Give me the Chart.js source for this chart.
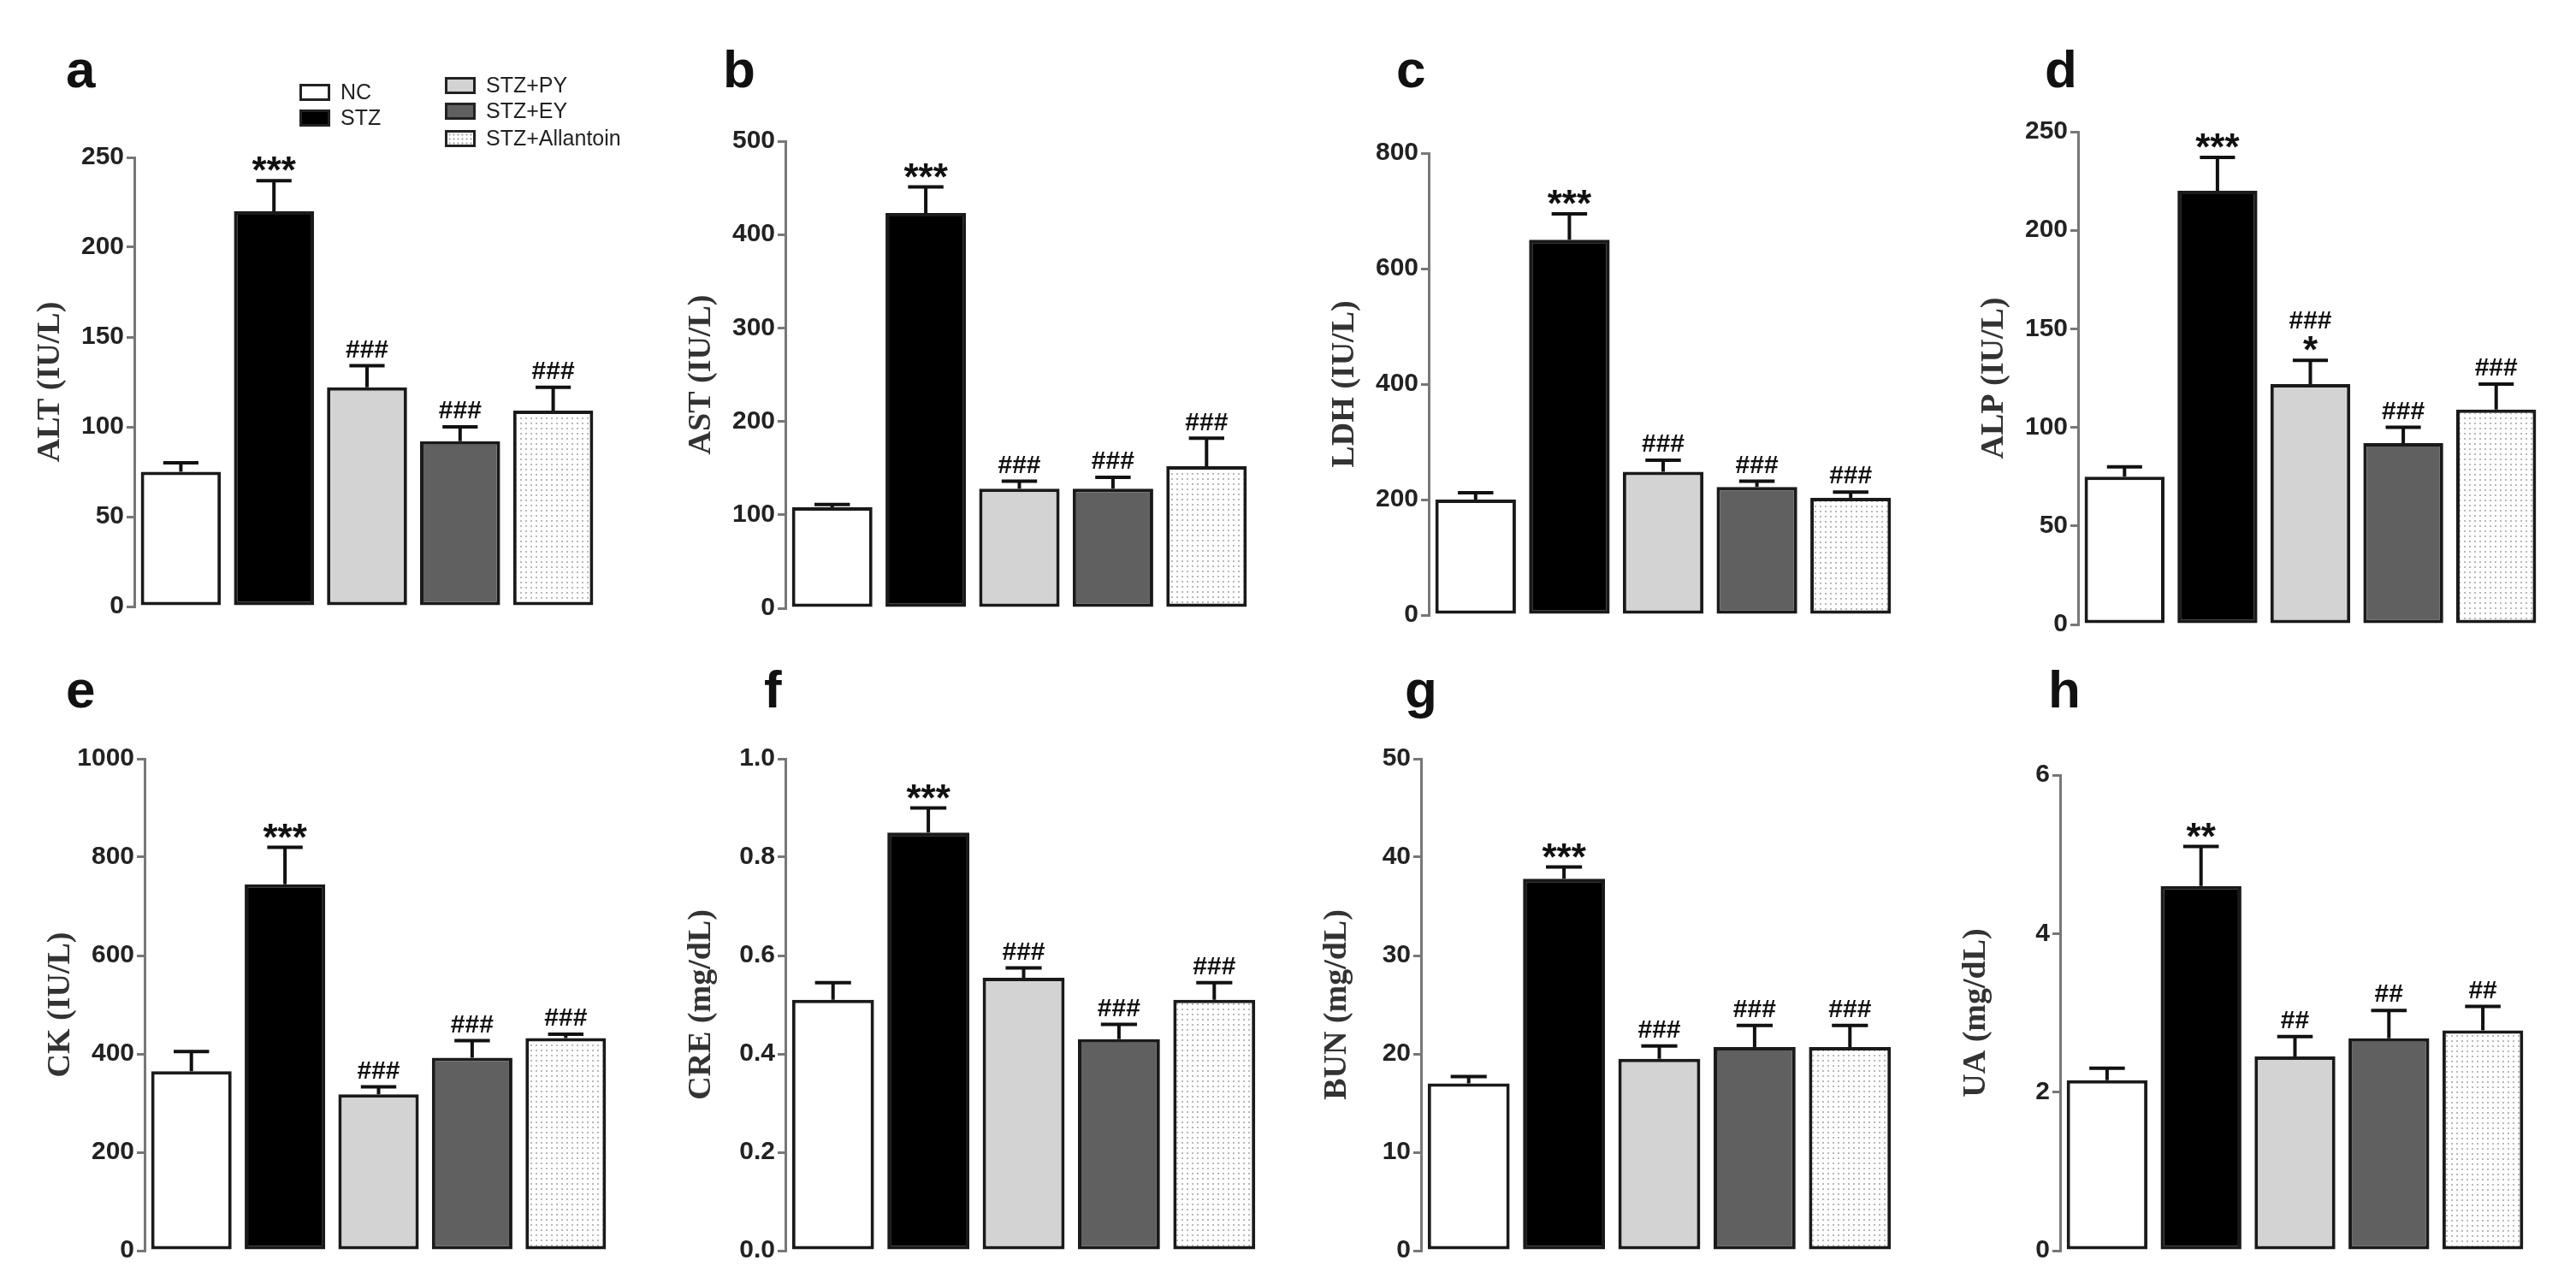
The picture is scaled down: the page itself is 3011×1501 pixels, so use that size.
<!DOCTYPE html>
<html><head><meta charset="utf-8">
<script src="https://cdn.jsdelivr.net/npm/chart.js@4"></script>
<style>
body{margin:0;background:#fff;width:3011px;height:1501px;position:relative;overflow:hidden;font-family:"Liberation Sans",Arial,sans-serif}
canvas{position:absolute}
.lt{position:absolute;font:bold 62px "Liberation Sans",Arial,sans-serif;color:#111}
.lg{position:absolute;font:25px "Liberation Sans Narrow","Liberation Sans",Arial,sans-serif;color:#222;white-space:nowrap}
.bx{position:absolute;width:36px;height:20px;border:3px solid #222;box-sizing:border-box}
</style></head><body>
<script>
const groups = ["NC","STZ","STZ+PY","STZ+EY","STZ+Allantoin"];
const panelLetters = ["a","b","c","d","e","f","g","h"];
const titles = ["ALT (IU/L)","AST (IU/L)","LDH (IU/L)","ALP (IU/L)","CK (IU/L)","CRE (mg/dL)","BUN (mg/dL)","UA (mg/dL)"];
const yMax = [250,500,800,250,1000,1.0,50,6];
const yStep = [50,100,200,50,200,0.2,10,2];
const ALT = [75,220,122,92,109], ALTerr = [5,17,12,8,13];
const AST = [108,423,128,128,152], ASTerr = [3,28,8,12,30];
const LDH = [200,650,248,222,203], LDHerr = [12,45,20,10,10];
const ALP = [75,220,122,92,109], ALPerr = [5,17,12,8,13];
const CK = [365,745,318,392,432], CKerr = [40,75,15,35,8];
const CRE = [0.51,0.85,0.555,0.43,0.51], CREerr = [0.035,0.05,0.02,0.03,0.035];
const BUN = [17,37.8,19.5,20.7,20.7], BUNerr = [0.7,1.2,1.3,2.2,2.2];
const UA = [2.15,4.6,2.45,2.68,2.78], UAerr = [0.15,0.5,0.25,0.35,0.3];
const values = [ALT,AST,LDH,ALP,CK,CRE,BUN,UA];
const errors = [ALTerr,ASTerr,LDHerr,ALPerr,CKerr,CREerr,BUNerr,UAerr];
const sigs = [
 ["","***","###","###","###"],["","***","###","###","###"],["","***","###","###","###"],
 ["","***","###\n*","###","###"],["","***","###","###","###"],["","***","###","###","###"],
 ["","***","###","###","###"],["","**","##","##","##"]];
const layout = [
 [157,184,710,701,77,45],[918,165,712,1465,845,45],[1670,179,720,2218,1632,45],[2429,154,731,2972,2390,45],
 [169,887,1463,716,77,770],[918,887,1463,1475,893,770],[1661,887,1463,2218,1642,770],[2408,906,1463,2957,2394,770]];

const pc = document.createElement('canvas'); pc.width=6; pc.height=6;
const px = pc.getContext('2d'); px.fillStyle='#fff'; px.fillRect(0,0,6,6); px.fillStyle='#b8b8b8'; px.fillRect(0,0,2,2);

const errPlugin = {id:'err', afterDatasetsDraw(chart){
  const ctx=chart.ctx, y=chart.scales.y, meta=chart.getDatasetMeta(0), p=chart.options.plugins.err;
  ctx.save(); ctx.strokeStyle='#111'; ctx.lineWidth=4; ctx.fillStyle='#111'; ctx.textAlign='center';
  meta.data.forEach((b,i)=>{
    const top=y.getPixelForValue(p.v[i]), e=y.getPixelForValue(p.v[i]+p.e[i]), hw=b.width*0.22;
    ctx.beginPath(); ctx.moveTo(b.x,top); ctx.lineTo(b.x,e); ctx.moveTo(b.x-hw,e); ctx.lineTo(b.x+hw,e); ctx.stroke();
    const s=p.s[i]; if(!s) return;
    const lines=s.split('\n');
    lines.forEach((t,k)=>{
      const star=t.includes('*');
      ctx.font = star ? 'bold 44px "Liberation Sans",Arial' : 'bold 30px "Liberation Sans Narrow","Liberation Sans",Arial';
      const yy = e - 3 - (lines.length-1-k)*28 + (star?16:0);
      ctx.textBaseline='bottom';
      ctx.fillText(t,b.x,yy);
    });
  });
  ctx.restore();
}};

const LEFT=125, PT=80;
for(let k=0;k<8;k++){
  const [ax,ty,zy,br,lx,ly]=layout[k];
  const c=document.createElement('canvas');
  const w=br-ax+LEFT+10, h=zy-ty+PT+20;
  c.width=w; c.height=h; c.style.left=(ax-LEFT)+'px'; c.style.top=(ty-PT)+'px';
  c.style.width=w+'px'; c.style.height=h+'px';
  document.body.appendChild(c);
  const lt=document.createElement('div'); lt.className='lt'; lt.textContent=panelLetters[k];
  lt.style.left=lx+'px'; lt.style.top=ly+'px'; document.body.appendChild(lt);
  new Chart(c,{type:'bar',
    data:{labels:groups,datasets:[{data:values[k],
      backgroundColor:['#ffffff','#000000','#d3d3d3','#606060',px.createPattern(pc,'repeat')],
      borderColor:'#1a1a1a',borderWidth:4,borderSkipped:false,barPercentage:0.86,categoryPercentage:1}]},
    options:{responsive:false,animation:false,devicePixelRatio:1,
      layout:{padding:{left:0,top:PT,right:10,bottom:20}},
      plugins:{legend:{display:false},tooltip:{enabled:false},
        err:{v:values[k],e:errors[k],s:sigs[k]}},
      scales:{
        x:{display:false,offset:true},
        y:{min:0,max:yMax[k],
          ticks:{stepSize:yStep[k],color:'#222',font:{family:'"Liberation Sans Narrow","Liberation Sans",Arial',weight:'bold',size:30},padding:3,
            callback:v=> yMax[k]<=1 ? v.toFixed(1) : v},
          grid:{drawOnChartArea:false,color:'#777',lineWidth:3,tickLength:9},
          border:{color:'#777',width:3},
          title:{display:true,text:titles[k],color:'#333',font:{family:'"Liberation Serif","Times New Roman",serif',weight:'bold',size:38},padding:{bottom:4}},
          afterFit(s){s.width=LEFT;}
        }}},
    plugins:[errPlugin]});
}
const leg=[["NC",350,98,'#fff'],["STZ",350,128,'#000'],["STZ+PY",520,90,'#d3d3d3'],["STZ+EY",520,120,'#606060'],["STZ+Allantoin",520,152,'pat']];
leg.forEach(([t,x,y,col])=>{
  const b=document.createElement('div'); b.className='bx'; b.style.left=x+'px'; b.style.top=y+'px';
  if(col==='pat'){b.style.background='radial-gradient(#bbb 35%,transparent 40%) 0 0/5px 5px,#fff';} else b.style.background=col;
  document.body.appendChild(b);
  const d=document.createElement('div'); d.className='lg'; d.textContent=t; d.style.left=(x+48)+'px'; d.style.top=(y-5)+'px';
  document.body.appendChild(d);
});
</script>
</body></html>
